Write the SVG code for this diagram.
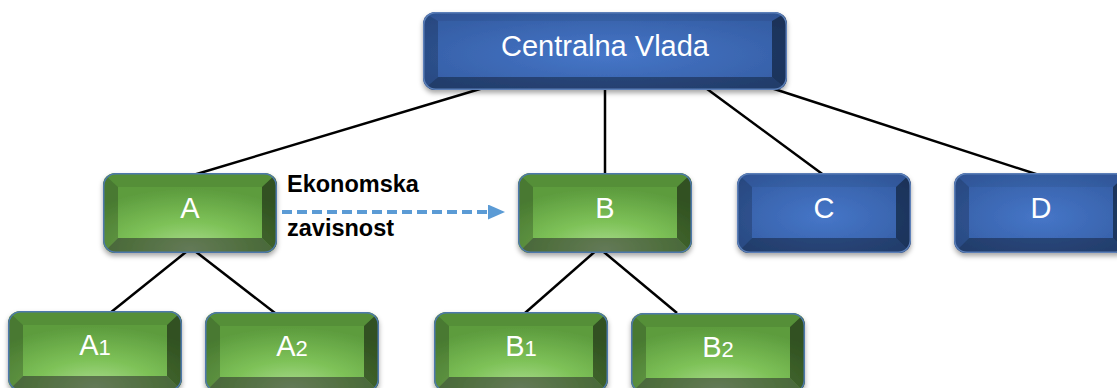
<svg xmlns="http://www.w3.org/2000/svg" xmlns:xlink="http://www.w3.org/1999/xlink" width="1117" height="388" viewBox="0 0 1117 388">
  <style>
    .lbl { font-family: "Liberation Sans", Arial, sans-serif; fill: #ffffff; text-anchor: middle; font-size: 29px; }
    .sub { font-size: 22px; }
    .note { font-family: "Liberation Sans", Arial, sans-serif; font-weight: bold; font-size: 23.5px; fill: #000000; }
    .link { stroke: #000000; stroke-width: 2.5; fill: none; }
    .dep { stroke: #5b9bd5; stroke-width: 4; fill: none; stroke-dasharray: 10 5; }
  </style>
  <defs>
    <filter id="shadow" x="-10%" y="-20%" width="120%" height="150%">
      <feDropShadow dx="0" dy="3" stdDeviation="2.5" flood-color="#000000" flood-opacity="0.35"/>
    </filter>
    <radialGradient id="greenFace" cx="0.5" cy="0.95" r="0.75" fx="0.5" fy="0.95">
      <stop offset="0" stop-color="#aadb8e"/>
      <stop offset="0.45" stop-color="#7ec258"/>
      <stop offset="1" stop-color="#5d9c3e"/>
    </radialGradient>
    <radialGradient id="blueFace" cx="0.5" cy="0.55" r="0.7">
      <stop offset="0" stop-color="#4676c8"/>
      <stop offset="1" stop-color="#325a9f"/>
    </radialGradient>
    <clipPath id="boxClip">
      <rect x="0" y="0" width="174" height="80" rx="12"/>
    </clipPath>
    <clipPath id="bigClip">
      <rect x="0" y="0" width="364" height="78" rx="12"/>
    </clipPath>
    <!-- bevelled key-cap box, green -->
    <symbol id="greenBox" viewBox="0 0 174 80" width="174" height="80" overflow="visible">
      <g clip-path="url(#boxClip)">
        <rect width="174" height="80" fill="url(#greenFace)"/>
        <polygon points="0,0 174,0 159,14 15,14" fill="#000" fill-opacity="0.08"/>
        <polygon points="0,0 15,14 15,65 0,80" fill="#000" fill-opacity="0.22"/>
        <polygon points="174,0 174,80 159,65 159,14" fill="#000" fill-opacity="0.48"/>
        <polygon points="0,80 15,65 159,65 174,80" fill="#2a2a2a" fill-opacity="0.55"/>
      </g>
      <rect x="0.75" y="0.75" width="172.5" height="78.5" rx="12" fill="none" stroke="#4e78ab" stroke-width="1.5"/>
    </symbol>
    <!-- bevelled key-cap box, blue -->
    <symbol id="blueBox" viewBox="0 0 174 80" width="174" height="80" overflow="visible">
      <g clip-path="url(#boxClip)">
        <rect width="174" height="80" fill="url(#blueFace)"/>
        <polygon points="0,0 174,0 159,14 15,14" fill="#000" fill-opacity="0.06"/>
        <polygon points="0,0 15,14 15,65 0,80" fill="#000" fill-opacity="0.2"/>
        <polygon points="174,0 174,80 159,65 159,14" fill="#000" fill-opacity="0.45"/>
        <polygon points="0,80 15,65 159,65 174,80" fill="#000" fill-opacity="0.35"/>
      </g>
      <rect x="0.75" y="0.75" width="172.5" height="78.5" rx="12" fill="none" stroke="#5b7fb8" stroke-width="1.5"/>
    </symbol>
    <marker id="arrowHead" viewBox="0 0 17 15" markerUnits="userSpaceOnUse" markerWidth="17" markerHeight="15" refX="1" refY="7.5" orient="auto">
      <polygon points="0,0 17,7.5 0,15" fill="#5b9bd5"/>
    </marker>
  </defs>

  <rect width="1117" height="388" fill="#ffffff"/>

  <!-- hierarchy links -->
  <g id="connectors">
    <line class="link" x1="490" y1="86" x2="190" y2="176"/>
    <line class="link" x1="605" y1="86" x2="605" y2="176"/>
    <line class="link" x1="703" y1="86" x2="825" y2="176"/>
    <line class="link" x1="765" y1="86" x2="1042" y2="176"/>
    <line class="link" x1="191" y1="248" x2="110" y2="313"/>
    <line class="link" x1="191" y1="248" x2="275" y2="313"/>
    <line class="link" x1="599" y1="248" x2="525" y2="313"/>
    <line class="link" x1="599" y1="248" x2="677" y2="313"/>
    <line id="dependency" class="dep" x1="282" y1="212" x2="489" y2="212" marker-end="url(#arrowHead)"/>
  </g>

  <g id="dependency-label">
    <text class="note" x="287" y="192">Ekonomska</text>
    <text class="note" x="287" y="236">zavisnost</text>
  </g>

  <!-- root -->
  <g id="node-root">
    <g transform="translate(423,12)" filter="url(#shadow)">
      <g clip-path="url(#bigClip)">
        <rect width="364" height="78" fill="url(#blueFace)"/>
        <polygon points="0,0 364,0 349,9 15,9" fill="#000" fill-opacity="0.06"/>
        <polygon points="0,0 15,9 15,65 0,78" fill="#000" fill-opacity="0.2"/>
        <polygon points="364,0 364,78 349,65 349,9" fill="#000" fill-opacity="0.45"/>
        <polygon points="0,78 15,65 349,65 364,78" fill="#000" fill-opacity="0.35"/>
      </g>
      <rect x="0.75" y="0.75" width="362.5" height="76.5" rx="12" fill="none" stroke="#5b7fb8" stroke-width="1.5"/>
    </g>
    <text class="lbl" x="605" y="56">Centralna Vlada</text>
  </g>

  <!-- second level -->
  <g id="node-A">
    <use href="#greenBox" xlink:href="#greenBox" x="103" y="173" filter="url(#shadow)"/>
    <text class="lbl" x="190" y="218">A</text>
  </g>
  <g id="node-B">
    <use href="#greenBox" xlink:href="#greenBox" x="518" y="173" filter="url(#shadow)"/>
    <text class="lbl" x="605" y="218">B</text>
  </g>
  <g id="node-C">
    <use href="#blueBox" xlink:href="#blueBox" x="737" y="173" filter="url(#shadow)"/>
    <text class="lbl" x="824" y="218">C</text>
  </g>
  <g id="node-D">
    <use href="#blueBox" xlink:href="#blueBox" x="954" y="173" filter="url(#shadow)"/>
    <text class="lbl" x="1041" y="218">D</text>
  </g>

  <!-- third level -->
  <g id="node-A1">
    <use href="#greenBox" xlink:href="#greenBox" x="8" y="311" filter="url(#shadow)"/>
    <text class="lbl" x="95" y="355">A<tspan class="sub">1</tspan></text>
  </g>
  <g id="node-A2">
    <use href="#greenBox" xlink:href="#greenBox" x="205" y="312" filter="url(#shadow)"/>
    <text class="lbl" x="292" y="356">A<tspan class="sub">2</tspan></text>
  </g>
  <g id="node-B1">
    <use href="#greenBox" xlink:href="#greenBox" x="434" y="312" filter="url(#shadow)"/>
    <text class="lbl" x="521" y="356">B<tspan class="sub">1</tspan></text>
  </g>
  <g id="node-B2">
    <use href="#greenBox" xlink:href="#greenBox" x="631" y="313" filter="url(#shadow)"/>
    <text class="lbl" x="718" y="357">B<tspan class="sub">2</tspan></text>
  </g>
</svg>
